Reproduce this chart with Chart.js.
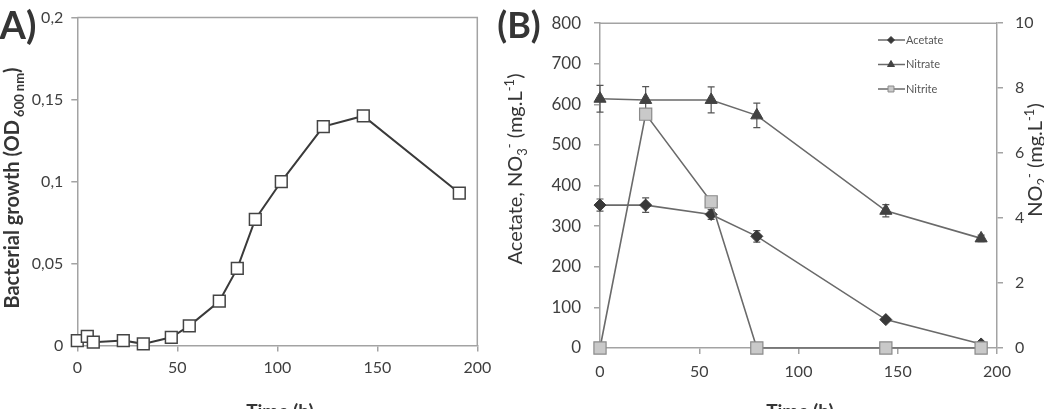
<!DOCTYPE html>
<html><head><meta charset="utf-8">
<script src="https://cdn.jsdelivr.net/npm/chart.js@4.4.0/dist/chart.umd.min.js"></script>
<style>
html,body{margin:0;padding:0;background:#fff;}
#wrap{position:relative;width:1044px;height:409px;overflow:hidden;background:#fff;}
canvas{position:absolute;left:0;top:0;}
</style></head><body>
<div id="wrap"><canvas id="cA" width="1044" height="409"></canvas><canvas id="cB" width="1044" height="409"></canvas></div>
<script>
// ---- Panel A data ----
const timeA = [0, 5, 8, 23, 33, 47, 56, 71, 80, 89, 102, 123, 143, 191];
const odA   = [0.003, 0.0055, 0.002, 0.003, 0.001, 0.005, 0.012, 0.027, 0.047, 0.077, 0.100, 0.1335, 0.140, 0.093];
const yTicksA = ['0', '0,05', '0,1', '0,15', '0,2'];
const xTicks = ['0', '50', '100', '150', '200'];

// ---- Panel B data ----
const timeB      = [0, 23, 56, 79, 144, 192];
const acetate    = [352, 352, 329, 275, 70, 10];
const acetateErr = [15, 18, 12, 14, 5, 3];
const nitrate    = [614, 611, 611, 573, 338, 270];
const nitrateErr = [33, 33, 32, 30, 15, 8];
const nitrite    = [0, 7.2, 4.5, 0, 0, 0];
const yTicksB  = ['0','100','200','300','400','500','600','700','800'];
const y2TicksB = ['0','2','4','6','8','10'];
const seriesNames = ['Acetate', 'Nitrate', 'Nitrite'];

const FAM = 'Lato, "Open Sans", "Liberation Sans", sans-serif';
Chart.defaults.font.family = FAM;
const AXC = '#a3a3a3';
const TXT = '#3f3f3f';

function drawRich(ctx, segs, cx, cy, rot, color){
  ctx.save();
  ctx.translate(cx, cy); ctx.rotate(rot);
  ctx.fillStyle = color; ctx.textBaseline = 'alphabetic';
  let total = 0;
  segs.forEach(s => { ctx.font = (s.b ? 'bold ' : '') + s.s + 'px ' + FAM; s._w = ctx.measureText(s.t).width; total += s._w; });
  let x = -total / 2;
  const base = segs[0].s * 0.36;
  segs.forEach(s => { ctx.font = (s.b ? 'bold ' : '') + s.s + 'px ' + FAM; ctx.fillText(s.t, x, base + (s.dy || 0)); x += s._w; });
  ctx.restore();
}

const framePlugin = {
  id: 'frame',
  afterDraw(chart, args, opts){
    const ctx = chart.ctx, a = chart.chartArea;
    ctx.save();
    ctx.strokeStyle = AXC; ctx.lineWidth = 1.5;
    ctx.beginPath();
    ctx.moveTo(a.left, a.top); ctx.lineTo(a.right, a.top);
    if (opts.right) { ctx.lineTo(a.right, a.bottom); }
    ctx.stroke();
    ctx.restore();
    (opts.texts || []).forEach(t => drawRich(ctx, t.segs, t.x, t.y, t.rot || 0, t.color || '#353535'));
  }
};

const errPlugin = {
  id: 'err',
  beforeDatasetsDraw(chart){
    const ctx = chart.ctx, xs = chart.scales.x;
    chart.data.datasets.forEach(ds => {
      if (!ds.errors) return;
      const ys = chart.scales[ds.yAxisID || 'y'];
      ctx.save(); ctx.strokeStyle = '#555'; ctx.lineWidth = 1.2;
      ds.data.forEach((p, i) => {
        const e = ds.errors[i]; if (!e) return;
        const x = xs.getPixelForValue(p.x);
        const y1 = ys.getPixelForValue(p.y + e), y2 = ys.getPixelForValue(p.y - e);
        ctx.beginPath();
        ctx.moveTo(x, y1); ctx.lineTo(x, y2);
        ctx.moveTo(x - 3.5, y1); ctx.lineTo(x + 3.5, y1);
        ctx.moveTo(x - 3.5, y2); ctx.lineTo(x + 3.5, y2);
        ctx.stroke();
      });
      ctx.restore();
    });
  }
};

const legendPlugin = {
  id: 'lg',
  afterDraw(chart){
    const ctx = chart.ctx;
    [0, 1, 2].forEach(i => {
      const ds = chart.data.datasets[i];
      const y = 40 + i * 24.5;
      ctx.save();
      ctx.strokeStyle = ds.borderColor; ctx.lineWidth = 1.5;
      ctx.beginPath(); ctx.moveTo(878, y); ctx.lineTo(905, y); ctx.stroke();
      ctx.fillStyle = ds.pointBackgroundColor; ctx.strokeStyle = ds.pointBorderColor; ctx.lineWidth = 1;
      Chart.helpers.drawPoint(ctx, {pointStyle: ds.pointStyle, radius: ds.legendRadius, borderWidth: 1}, 891, y);
      ctx.fillStyle = '#555'; ctx.font = '11px ' + FAM; ctx.textBaseline = 'middle';
      ctx.fillText(seriesNames[i], 906, y);
      ctx.restore();
    });
  }
};

function axisCommon(){
  return {
    border: {display: true, color: AXC, width: 1.5},
    grid: {display: true, drawOnChartArea: false, drawTicks: true, tickLength: 6, color: AXC, lineWidth: 1.5}
  };
}

// ---------- Chart A ----------
new Chart(document.getElementById('cA'), {
  type: 'line',
  data: {
    datasets: [{
      data: timeA.map((t, i) => ({x: t, y: odA[i]})),
      borderColor: '#3a3a3a', borderWidth: 2,
      pointStyle: 'rect', pointRadius: 8.3, pointBorderWidth: 1.5,
      pointBackgroundColor: '#ffffff', pointBorderColor: '#444444',
      tension: 0, clip: false
    }]
  },
  options: {
    responsive: false, animation: false, events: [],
    layout: {padding: {left: 0, top: 16, right: 566.7, bottom: 0}},
    plugins: {legend: {display: false}, tooltip: {enabled: false},
      frame: {right: true, texts: [
        {segs: [{t: 'A)', s: 38, b: true}], x: 18, y: 25},
        {segs: [{t: 'Bacterial growth (OD', s: 20, b: true}, {t: ' 600 nm', s: 13, b: true, dy: 5}, {t: ')', s: 20, b: true}], x: 12, y: 188, rot: -Math.PI / 2},
        {segs: [{t: 'Time (h)', s: 19, b: true}], x: 280, y: 411}
      ]}
    },
    scales: {
      x: Object.assign(axisCommon(), {
        type: 'linear', min: 0, max: 200,
        ticks: {stepSize: 50, color: TXT, font: {size: 16}, padding: 7, callback: v => xTicks[Math.round(v / 50)]},
        afterFit: s => { s.height = 409 - 345.5; }
      }),
      y: Object.assign(axisCommon(), {
        min: 0, max: 0.2,
        ticks: {stepSize: 0.05, color: TXT, font: {size: 16}, padding: 8, callback: v => yTicksA[Math.round(v / 0.05)]},
        afterFit: s => { s.width = 77.3; }
      })
    }
  },
  plugins: [framePlugin]
});

// ---------- Chart B ----------
new Chart(document.getElementById('cB'), {
  type: 'line',
  data: {
    datasets: [
      {
        label: seriesNames[0], order: 1,
        data: timeB.map((t, i) => ({x: t, y: acetate[i]})), errors: acetateErr,
        borderColor: '#6a6a6a', borderWidth: 1.6,
        pointStyle: 'rectRot', pointRadius: 6, legendRadius: 3.5, pointBorderWidth: 1,
        pointBackgroundColor: '#383838', pointBorderColor: '#383838', yAxisID: 'y', tension: 0, clip: false
      },
      {
        label: seriesNames[1], order: 2,
        data: timeB.map((t, i) => ({x: t, y: nitrate[i]})), errors: nitrateErr,
        borderColor: '#6a6a6a', borderWidth: 1.6,
        pointStyle: 'triangle', pointRadius: 7, legendRadius: 4, pointBorderWidth: 1,
        pointBackgroundColor: '#424242', pointBorderColor: '#424242', yAxisID: 'y', tension: 0, clip: false
      },
      {
        label: seriesNames[2], order: 0,
        data: timeB.map((t, i) => ({x: t, y: nitrite[i]})),
        borderColor: '#6a6a6a', borderWidth: 1.6,
        pointStyle: 'rect', pointRadius: 8.6, legendRadius: 4.2, pointBorderWidth: 1.2,
        pointBackgroundColor: '#c9c9c9', pointBorderColor: '#8a8a8a', yAxisID: 'y2', tension: 0, clip: false
      }
    ]
  },
  options: {
    responsive: false, animation: false, events: [],
    layout: {padding: {left: 490, top: 16, right: 0, bottom: 0}},
    plugins: {legend: {display: false}, tooltip: {enabled: false},
      frame: {right: false, texts: [
        {segs: [{t: '(B)', s: 36, b: true}], x: 519, y: 25},
        {segs: [{t: 'Acetate, NO', s: 20}, {t: '3', s: 13, dy: 5}, {t: '-', s: 13, dy: -8}, {t: ' (mg.L', s: 20}, {t: '-1', s: 13, dy: -8}, {t: ')', s: 20}], x: 515, y: 169, rot: -Math.PI / 2},
        {segs: [{t: 'NO', s: 20}, {t: '2', s: 13, dy: 5}, {t: '-', s: 13, dy: -8}, {t: ' (mg.L', s: 20}, {t: '-1', s: 13, dy: -8}, {t: ')', s: 20}], x: 1035, y: 160, rot: -Math.PI / 2},
        {segs: [{t: 'Time (h)', s: 19, b: true}], x: 800, y: 411}
      ]}
    },
    scales: {
      x: Object.assign(axisCommon(), {
        type: 'linear', min: 0, max: 200,
        ticks: {stepSize: 50, color: TXT, font: {size: 16}, padding: 8, callback: v => xTicks[Math.round(v / 50)]},
        afterFit: s => { s.height = 409 - 348; }
      }),
      y: Object.assign(axisCommon(), {
        position: 'left', min: 0, max: 800,
        ticks: {stepSize: 100, color: TXT, font: {size: 17}, padding: 13, callback: v => yTicksB[Math.round(v / 100)]},
        afterFit: s => { s.width = 110; }
      }),
      y2: Object.assign(axisCommon(), {
        position: 'right', min: 0, max: 10,
        ticks: {stepSize: 2, color: TXT, font: {size: 16}, padding: 12, callback: v => y2TicksB[Math.round(v / 2)]},
        afterFit: s => { s.width = 47; }
      })
    }
  },
  plugins: [errPlugin, framePlugin, legendPlugin]
});
</script>
</body></html>
